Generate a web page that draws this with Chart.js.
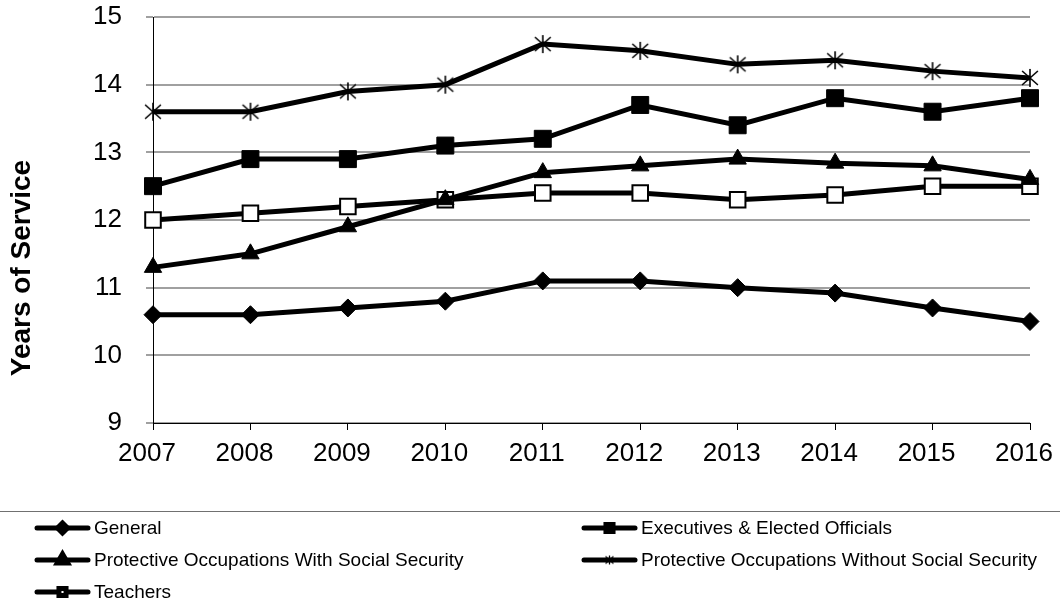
<!DOCTYPE html>
<html>
<head>
<meta charset="utf-8">
<script src="https://cdn.jsdelivr.net/npm/chart.js"></script>
<style>
  body { margin: 0; background: #fff; }
  #wrap { width: 1060px; height: 610px; position: relative; }
</style>
</head>
<body>
<div id="wrap"><canvas id="chart"></canvas></div>
<script>
const years = ['2007', '2008', '2009', '2010', '2011', '2012', '2013', '2014', '2015', '2016'];

const general = [10.6, 10.6, 10.7, 10.8, 11.1, 11.1, 11.0, 10.92, 10.7, 10.5];
const executives = [12.5, 12.9, 12.9, 13.1, 13.2, 13.7, 13.4, 13.8, 13.6, 13.8];
const protWithSS = [11.3, 11.5, 11.9, 12.3, 12.7, 12.8, 12.9, 12.84, 12.8, 12.6];
const protWithoutSS = [13.6, 13.6, 13.9, 14.0, 14.6, 14.5, 14.3, 14.36, 14.2, 14.1];
const teachers = [12.0, 12.1, 12.2, 12.3, 12.4, 12.4, 12.3, 12.37, 12.5, 12.5];

const seriesNames = [
  'General',
  'Executives & Elected Officials',
  'Protective Occupations With Social Security',
  'Protective Occupations Without Social Security',
  'Teachers'
];
const yTitle = 'Years of Service';

const FONT = "'Liberation Sans', Arial, sans-serif";

// asterisk marker: an X with a vertical stroke, like the Excel one
function asterisk(size, lw) {
  const c = document.createElement('canvas');
  c.width = size; c.height = size;
  const g = c.getContext('2d');
  const m = size / 2, r = size / 2 - 1;
  g.strokeStyle = '#000';
  g.lineWidth = lw;
  g.beginPath();
  g.moveTo(m, m - r); g.lineTo(m, m + r);
  g.moveTo(m - r * 0.88, m - r * 0.78); g.lineTo(m + r * 0.88, m + r * 0.78);
  g.moveTo(m - r * 0.88, m + r * 0.78); g.lineTo(m + r * 0.88, m - r * 0.78);
  g.stroke();
  return c;
}
const starBig = asterisk(20, 1.6);
const starSmall = asterisk(11, 1.3);

function line(label, data, style, radius, fill, bw) {
  return {
    label: label,
    data: data,
    borderColor: '#000',
    borderWidth: 5,
    pointStyle: style,
    pointRadius: radius,
    pointHoverRadius: radius,
    pointBackgroundColor: fill,
    pointBorderColor: '#000',
    pointBorderWidth: bw,
    tension: 0
  };
}

// axis title placed like the original (not centred on the plot)
const sideTitle = {
  id: 'sideTitle',
  afterDraw(chart) {
    const ctx = chart.ctx;
    ctx.save();
    ctx.translate(22, 268);
    ctx.rotate(-Math.PI / 2);
    ctx.fillStyle = '#000';
    ctx.font = 'bold 28px ' + FONT;
    ctx.textAlign = 'center';
    ctx.textBaseline = 'middle';
    ctx.fillText(yTitle, 0, 0);
    ctx.restore();
  }
};

// legend drawn under the plot, two columns like the original
const bottomLegend = {
  id: 'bottomLegend',
  afterDraw(chart) {
    const ctx = chart.ctx;
    ctx.save();
    ctx.strokeStyle = '#707070';
    ctx.lineWidth = 1;
    ctx.beginPath();
    ctx.moveTo(0, 511.5);
    ctx.lineTo(1060, 511.5);
    ctx.stroke();

    const cols = [35, 582];
    const rows = [528, 560, 592];
    chart.data.datasets.forEach((ds, i) => {
      const x = cols[i % 2];
      const y = rows[Math.floor(i / 2)];
      ctx.strokeStyle = '#000';
      ctx.lineWidth = 5;
      ctx.lineCap = 'round';
      ctx.beginPath();
      ctx.moveTo(x + 2, y);
      ctx.lineTo(x + 53, y);
      ctx.stroke();
      ctx.fillStyle = ds.pointBackgroundColor;
      ctx.strokeStyle = '#000';
      const ps = ds.pointStyle === starBig ? starSmall : ds.pointStyle;
      Chart.helpers.drawPoint(ctx, {
        pointStyle: ps,
        radius: ds.pointStyle === 'triangle' ? 6 : 5,
        borderWidth: 1.5,
        rotation: 0
      }, x + 27.5, y);
      ctx.fillStyle = '#000';
      ctx.font = '19px ' + FONT;
      ctx.textBaseline = 'middle';
      ctx.textAlign = 'left';
      ctx.fillText(ds.label, x + 59, y + 1);
    });
    ctx.restore();
  }
};

new Chart(document.getElementById('chart'), {
  type: 'line',
  data: {
    labels: years,
    datasets: [
      line(seriesNames[0], general, 'rectRot', 9, '#000', 1),
      line(seriesNames[1], executives, 'rect', 12, '#000', 1),
      line(seriesNames[2], protWithSS, 'triangle', 10, '#000', 1),
      line(seriesNames[3], protWithoutSS, starBig, 10, '#000', 2),
      line(seriesNames[4], teachers, 'rect', 11, '#fff', 2)
    ]
  },
  options: {
    responsive: true,
    maintainAspectRatio: false,
    animation: false,
    layout: { padding: { top: 17, right: 30, left: 0, bottom: 0 } },
    plugins: {
      legend: { display: false },
      tooltip: { enabled: false }
    },
    scales: {
      x: {
        offset: false,
        afterFit: s => { s.height = 187; s.paddingLeft = 0; s.paddingRight = 0; },
        border: { color: '#000', width: 1 },
        grid: { drawOnChartArea: false, color: '#000', tickLength: 7 },
        ticks: { color: '#000', padding: 8, labelOffset: -6, font: { family: FONT, size: 26 }, maxRotation: 0 }
      },
      y: {
        min: 9,
        max: 15,
        afterFit: s => { s.width = 153; s.paddingTop = 0; s.paddingBottom = 0; },
        border: { color: '#000', width: 1 },
        grid: { color: '#a0a0a0', lineWidth: 2, tickLength: 7 },
        ticks: { stepSize: 1, color: '#000', padding: 24, font: { family: FONT, size: 26 } }
      }
    }
  },
  plugins: [sideTitle, bottomLegend]
});
</script>
</body>
</html>
